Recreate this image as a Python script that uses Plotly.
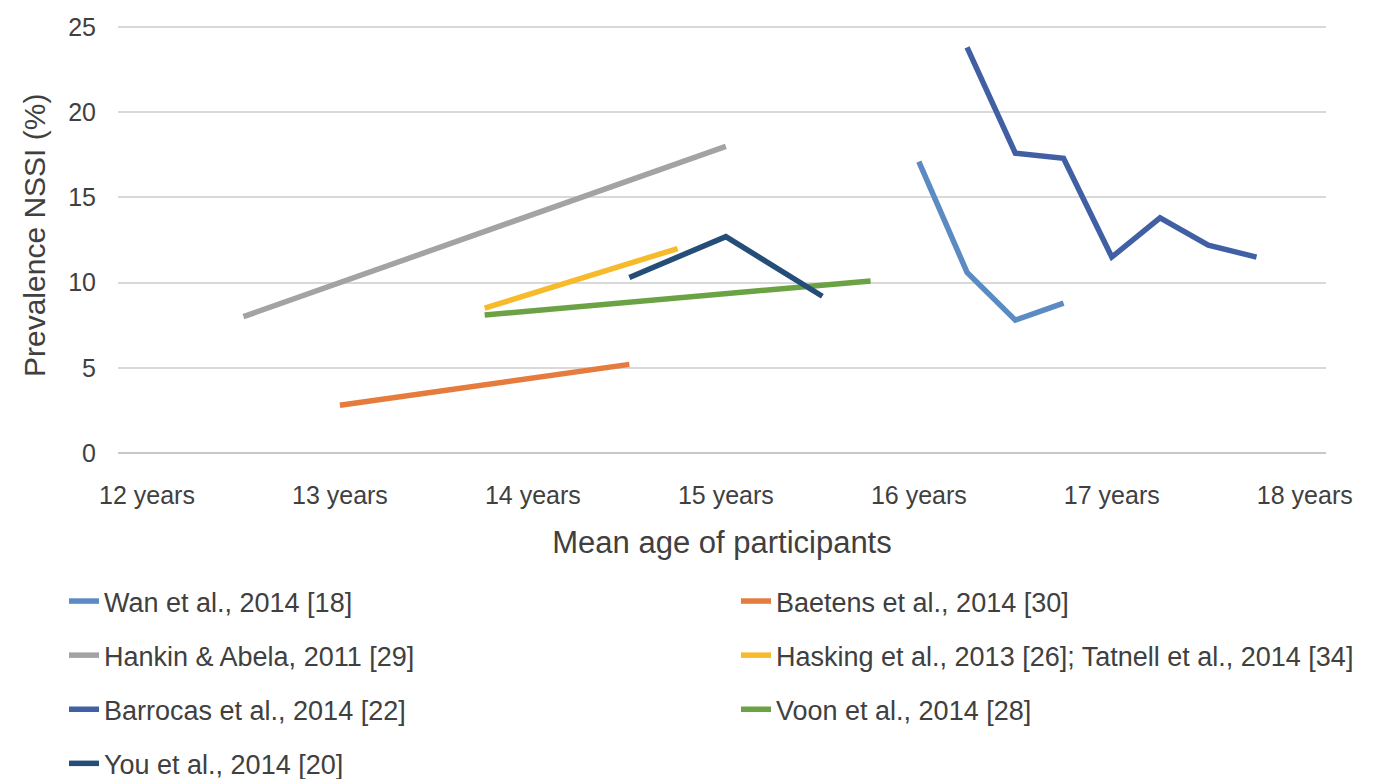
import plotly.graph_objects as go

# ---- data ----
wan_x = [16.0, 16.25, 16.5, 16.75]
wan_y = [17.1, 10.6, 7.8, 8.8]
baetens_x = [13.0, 14.5]
baetens_y = [2.8, 5.2]
hankin_x = [12.5, 15.0]
hankin_y = [8.0, 18.0]
hasking_x = [13.75, 14.75]
hasking_y = [8.5, 12.0]
barrocas_x = [16.25, 16.5, 16.75, 17.0, 17.25, 17.5, 17.75]
barrocas_y = [23.8, 17.6, 17.3, 11.5, 13.8, 12.2, 11.5]
voon_x = [13.75, 15.75]
voon_y = [8.1, 10.1]
you_x = [14.5, 15.0, 15.5]
you_y = [10.3, 12.7, 9.2]

tick_vals = [12, 13, 14, 15, 16, 17, 18]
tick_text = ["12 years", "13 years", "14 years", "15 years", "16 years", "17 years", "18 years"]
y_ticks = [0, 5, 10, 15, 20, 25]

series = [
    ("Wan et al., 2014 [18]", wan_x, wan_y, "#5B8BC2", "legend"),
    ("Baetens et al., 2014 [30]", baetens_x, baetens_y, "#E57B3C", "legend2"),
    ("Hankin & Abela, 2011 [29]", hankin_x, hankin_y, "#A3A3A3", "legend"),
    ("Hasking et al., 2013 [26]; Tatnell et al., 2014 [34]", hasking_x, hasking_y, "#F7BA2A", "legend2"),
    ("Barrocas et al., 2014 [22]", barrocas_x, barrocas_y, "#4160A4", "legend"),
    ("Voon et al., 2014 [28]", voon_x, voon_y, "#6BA244", "legend2"),
    ("You et al., 2014 [20]", you_x, you_y, "#244E78", "legend"),
]

FONT = "Liberation Sans, Arial, sans-serif"
TXT = "#404040"

# page body has an 8px margin, so the figure is drawn 8px smaller and offset
W, H = 1386, 771
L, R, T = 110, 68, 18
PLOT_H = 427
B = H - T - PLOT_H

fig = go.Figure()
for i, (name, xs, ys, col, lg) in enumerate(series):
    fig.add_trace(go.Scatter(
        x=xs, y=ys, mode="lines", name=name,
        line=dict(color=col, width=5.5),
        legend=lg, legendgroup=f"g{i}",
    ))

LEG_TOP = 569
fig.update_layout(
    width=W, height=H,
    margin=dict(l=L, r=R, t=T, b=B, autoexpand=False),
    paper_bgcolor="white", plot_bgcolor="white",
    font=dict(family=FONT, color=TXT, size=24),
    showlegend=True,
    legend=dict(
        xref="container", yref="container",
        x=56 / W, y=1 - LEG_TOP / H, xanchor="left", yanchor="top",
        orientation="v", tracegroupgap=16,
        font=dict(family=FONT, size=27, color=TXT),
        bgcolor="rgba(0,0,0,0)",
    ),
    legend2=dict(
        xref="container", yref="container",
        x=728 / W, y=1 - LEG_TOP / H, xanchor="left", yanchor="top",
        orientation="v", tracegroupgap=16,
        font=dict(family=FONT, size=27, color=TXT),
        bgcolor="rgba(0,0,0,0)",
    ),
    xaxis=dict(
        range=[11.85, 18.11],
        tickmode="array", tickvals=tick_vals, ticktext=tick_text,
        tickangle=0, automargin=False,
        showgrid=False, zeroline=False, showline=False,
        ticks="outside", ticklen=20, tickcolor="rgba(0,0,0,0)",
        tickfont=dict(size=25, color=TXT, family=FONT),
        title=dict(text="Mean age of participants", font=dict(size=31, color=TXT, family=FONT), standoff=23),
    ),
    yaxis=dict(
        range=[0, 25.06],
        tickmode="array", tickvals=y_ticks,
        automargin=False,
        showgrid=True, gridcolor="#D9D9D9", gridwidth=2,
        zeroline=True, zerolinecolor="#C8C8C8", zerolinewidth=2,
        showline=False,
        ticks="outside", ticklen=16, tickcolor="rgba(0,0,0,0)",
        tickfont=dict(size=25, color=TXT, family=FONT),
    ),
    annotations=[dict(
        text="Prevalence NSSI (%)", textangle=-90,
        xref="paper", yref="paper",
        x=-(118 - 34) / 1208, y=0.5 - (236 - 239.5) / PLOT_H,
        xanchor="center", yanchor="middle", showarrow=False,
        font=dict(size=30, color=TXT, family=FONT),
    )],
)

fig.write_html("out.html")
